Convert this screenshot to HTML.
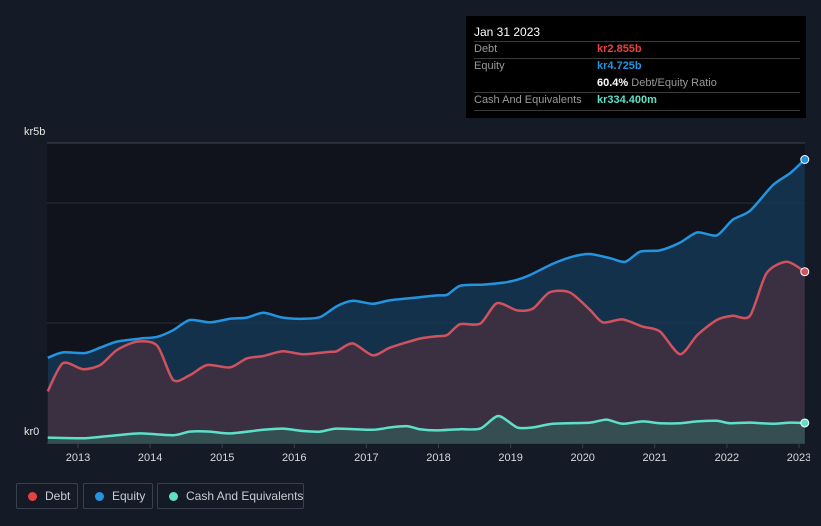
<!DOCTYPE html>
<html><head><meta charset="utf-8">
<style>
body{margin:0;background:#151b26;width:821px;height:526px;overflow:hidden;font-family:"Liberation Sans",sans-serif;}
svg{position:absolute;left:0;top:0}
.tt{position:absolute;left:466px;top:16px;width:340px;height:102px;background:#000;color:#ddd;font-size:11px}
.tt div{position:absolute;white-space:nowrap}
.sep{position:absolute;left:8px;width:326px;height:1px;background:#3a3a3a}
.lg{position:absolute;top:483px;height:26px;border:1px solid #3a404c;border-radius:2px;box-sizing:border-box;color:#c9ccd2;font-size:12px;line-height:24px;white-space:nowrap}
.lg span{position:absolute;top:8px;left:11px;width:9px;height:9px;border-radius:50%}
.lg b{font-weight:normal;position:absolute;left:28px;white-space:nowrap}
</style></head><body>
<svg width="821" height="526">
<defs><clipPath id="c"><rect x="0" y="0" width="810" height="526"/></clipPath></defs>
<rect x="47" y="143" width="758" height="300" fill="#10131b"/>
<g id="grid"></g>
<g id="areas"></g>
<g id="lines"></g>
<g id="axis" clip-path="url(#c)"></g>
<text x="24" y="135" fill="#e6e6e6" font-size="11">kr5b</text>
<text x="24" y="435" fill="#e6e6e6" font-size="11">kr0</text>
</svg>
<div class="tt">
<div style="left:8px;top:9px;color:#fff;font-size:12px">Jan 31 2023</div>
<div class="sep" style="top:25px"></div>
<div style="left:8px;top:27px;color:#999">Debt</div><div style="left:131px;top:27px;color:#e8413f;font-weight:bold">kr2.855b</div>
<div class="sep" style="top:42px"></div>
<div style="left:8px;top:44px;color:#999">Equity</div><div style="left:131px;top:44px;color:#2394e0;font-weight:bold">kr4.725b</div>
<div style="left:131px;top:61px;color:#999"><b style="color:#fff">60.4%</b> Debt/Equity Ratio</div>
<div class="sep" style="top:76px"></div>
<div style="left:8px;top:78px;color:#999">Cash And Equivalents</div><div style="left:131px;top:78px;color:#5ee0c8;font-weight:bold">kr334.400m</div>
<div class="sep" style="top:94px"></div>
</div>
<div class="lg" style="left:16px;width:62px"><span style="background:#e8413f"></span><b>Debt</b></div>
<div class="lg" style="left:83px;width:70px"><span style="background:#2394e0"></span><b>Equity</b></div>
<div class="lg" style="left:157px;width:147px"><span style="background:#5ee0c8"></span><b>Cash And Equivalents</b></div>
<script>
const eqT=[2012.58,2012.79,2013.10,2013.31,2013.54,2013.86,2014.10,2014.32,2014.55,2014.83,2015.11,2015.34,2015.57,2015.84,2016.12,2016.36,2016.59,2016.81,2017.09,2017.33,2017.74,2017.98,2018.12,2018.30,2018.62,2018.89,2019.09,2019.27,2019.59,2019.87,2020.10,2020.38,2020.59,2020.80,2021.07,2021.35,2021.59,2021.86,2022.08,2022.32,2022.64,2022.88,2023.08];
const eqV=[1.42,1.51,1.50,1.59,1.69,1.74,1.77,1.88,2.05,2.01,2.07,2.09,2.17,2.09,2.07,2.10,2.28,2.37,2.32,2.38,2.43,2.46,2.47,2.62,2.64,2.67,2.72,2.80,2.99,3.11,3.15,3.08,3.02,3.19,3.21,3.34,3.51,3.46,3.72,3.87,4.30,4.50,4.725];
const dbT=[2012.58,2012.79,2013.07,2013.31,2013.54,2013.82,2014.10,2014.32,2014.55,2014.79,2015.11,2015.34,2015.57,2015.84,2016.12,2016.50,2016.59,2016.81,2017.09,2017.33,2017.74,2017.98,2018.12,2018.30,2018.58,2018.81,2019.09,2019.31,2019.54,2019.82,2020.10,2020.28,2020.55,2020.83,2021.07,2021.35,2021.59,2021.86,2022.08,2022.32,2022.55,2022.83,2023.08];
const dbV=[0.86,1.33,1.23,1.30,1.55,1.69,1.62,1.05,1.13,1.30,1.26,1.41,1.45,1.53,1.48,1.52,1.53,1.66,1.46,1.59,1.74,1.78,1.80,1.98,1.99,2.33,2.21,2.24,2.51,2.51,2.22,2.01,2.06,1.94,1.86,1.48,1.80,2.05,2.12,2.12,2.83,3.02,2.855];
const caT=[2012.58,2013.10,2013.54,2013.86,2014.32,2014.55,2014.83,2015.11,2015.57,2015.84,2016.12,2016.36,2016.59,2017.09,2017.33,2017.57,2017.74,2017.98,2018.30,2018.58,2018.83,2019.09,2019.31,2019.59,2020.10,2020.33,2020.55,2020.83,2021.07,2021.35,2021.59,2021.86,2022.04,2022.32,2022.64,2022.88,2023.08];
const caV=[0.09,0.08,0.13,0.16,0.13,0.19,0.19,0.16,0.22,0.24,0.20,0.19,0.24,0.22,0.26,0.28,0.23,0.21,0.23,0.24,0.45,0.26,0.26,0.32,0.34,0.39,0.32,0.36,0.33,0.33,0.36,0.37,0.33,0.34,0.32,0.34,0.334];
const yearTicks=[2013,2014,2015,2016,2017,2018,2019,2020,2021,2022,2023];
const gridVals=[5,4,2];
const NS='http://www.w3.org/2000/svg';
const X=t=>78+(t-2013)*72.1, Y=v=>443-v*60;
function mk(tag,a,p){const e=document.createElementNS(NS,tag);for(const k in a)e.setAttribute(k,a[k]);p.appendChild(e);return e;}
function path(T,V){const P=T.map((t,i)=>[X(t),Y(V[i])]);let d='M'+P[0][0]+','+P[0][1];
for(let i=0;i<P.length-1;i++){const p0=P[Math.max(0,i-1)],p1=P[i],p2=P[i+1],p3=P[Math.min(P.length-1,i+2)];const k=0.13;
d+=` C${p1[0]+(p2[0]-p0[0])*k},${p1[1]+(p2[1]-p0[1])*k} ${p2[0]-(p3[0]-p1[0])*k},${p2[1]-(p3[1]-p1[1])*k} ${p2[0]},${p2[1]}`;}
return {d,P};}
const g=document.getElementById('grid'),ar=document.getElementById('areas'),ln=document.getElementById('lines'),ax=document.getElementById('axis');
gridVals.forEach((v,i)=>{const l=mk('line',{x1:47,x2:805,y1:Y(v),y2:Y(v),stroke:i==0?'#3e434c':'#2a2f38','stroke-width':1},g);

});
const bl=mk('line',{x1:47,x2:805,y1:443.5,y2:443.5,stroke:'#3a3f49','stroke-width':1},ax);


yearTicks.forEach(y=>{const x=X(y);mk('line',{x1:x,x2:x,y1:443,y2:448,stroke:'#3a3f49'},ax);
const t=mk('text',{x:x,y:461,'text-anchor':'middle',fill:'#d6d8dc','font-size':11},ax);t.textContent=y;

});
const series=[[eqT,eqV,'#2394e0','rgba(22,60,92,0.75)','equity'],[dbT,dbV,'#d0525f','rgba(62,48,64,0.92)','debt'],[caT,caV,'#5ee0c8','rgba(52,88,88,0.75)','cash']];
series.forEach(([T,V,c,f,n])=>{const {d,P}=path(T,V);const last=P[P.length-1];
const a=mk('path',{d:d+` L${last[0]},443 L${P[0][0]},443 Z`,fill:f},ar);


const l=mk('path',{d:d,fill:'none',stroke:c,'stroke-width':2.5},ln);


const dot=mk('circle',{cx:last[0],cy:last[1],r:4,fill:c,stroke:'#fff','stroke-width':1},ln);

});
</script>
</body></html>
